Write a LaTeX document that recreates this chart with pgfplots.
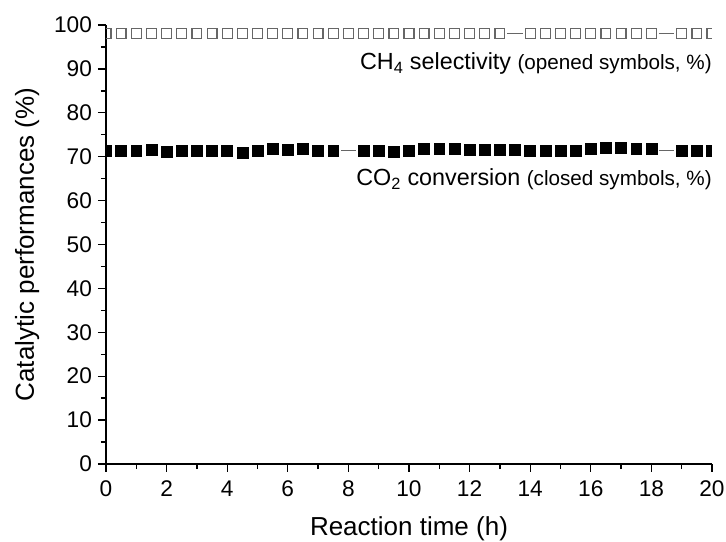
\documentclass[border=0pt]{standalone}
\usepackage{fontspec}
\setmainfont{Liberation Sans}
\usepackage{pgfplots}
\pgfplotsset{compat=1.18}
\begin{document}
\begin{tikzpicture}
\path[use as bounding box] (-79.5pt,-58.5pt) rectangle (465pt,348pt);
\begin{axis}[
  scale only axis, width=454.5pt, height=329.25pt,
  at={(0pt,0pt)}, anchor=south west,
  xmin=0, xmax=20, ymin=0, ymax=100,
  axis lines*=left,
  axis line style={line width=1pt},
  xtick={0,2,...,20}, minor x tick num=1,
  ytick={0,10,...,100}, minor y tick num=1,
  tick align=outside,
  major tick length=6pt, minor tick length=3.8pt,
  every tick/.style={black, line width=1pt},
  /pgf/number format/assume math mode=true,
  ticklabel style={font=\fontsize{17}{17}\selectfont},
  xticklabel style={text height=12.5pt, text depth=0pt, yshift=-2pt},
  yticklabel style={xshift=-1pt},
  xlabel={Reaction time (h)},
  ylabel={Catalytic performances (\%)},
  label style={font=\fontsize{19.5}{19.5}\selectfont},
  xlabel style={at={(axis description cs:0.5,-0.162)}, anchor=base},
  ylabel style={at={(axis description cs:-0.13,0.5)}, anchor=center},
  clip=true, clip mode=individual, clip marker paths=true,
]
% CH4 selectivity (open symbols)
\addplot[only marks, mark=square, mark size=3.7pt, mark options={draw=black!60, line width=0.9pt}]
coordinates {
(0,98)(0.5,98)(1,98)(1.5,98)(2,98)(2.5,98)(3,98)(3.5,98)(4,98)(4.5,98)
(5,98)(5.5,98)(6,98)(6.5,98)(7,98)(7.5,98)(8,98)(8.5,98)(9,98)(9.5,98)
(10,98)(10.5,98)(11,98)(11.5,98)(12,98)(12.5,98)(13,98)
(14,98)(14.5,98)(15,98)(15.5,98)(16,98)(16.5,98)(17,98)(17.5,98)(18,98)
(19,98)(19.5,98)(20,98)
};
\addplot[no marks, black!60, line width=0.9pt, unbounded coords=jump]
coordinates {(13.25,98)(13.75,98) (nan,nan) (18.25,98)(18.75,98)};
% CO2 conversion (closed symbols)
\addplot[only marks, mark=square*, mark size=4.1pt, mark options={fill=black, draw=black}]
coordinates {
(0,71.4)(0.5,71.4)(1,71.4)(1.5,71.55)(2,71.1)(2.5,71.25)(3,71.25)(3.5,71.4)(4,71.25)(4.5,70.95)
(5,71.4)(5.5,71.85)(6,71.55)(6.5,71.85)(7,71.4)(7.5,71.25)
(8.5,71.4)(9,71.4)(9.5,71.1)(10,71.4)(10.5,71.7)(11,71.7)(11.5,71.85)(12,71.55)(12.5,71.55)
(13,71.55)(13.5,71.55)(14,71.4)(14.5,71.25)(15,71.25)(15.5,71.4)(16,71.85)(16.5,72.0)(17,72.0)
(17.5,71.7)(18,71.7)
(19,71.4)(19.5,71.25)(20,71.4)
};
\addplot[no marks, black!60, line width=0.9pt, unbounded coords=jump]
coordinates {(7.75,71.4)(8.25,71.4) (nan,nan) (18.25,71.4)(18.75,71.4)};
\node[anchor=base east, inner sep=0pt] at (axis cs:20,89.8)
  {\fontsize{17.5}{17.5}\selectfont CH\textsubscript{4} selectivity \fontsize{15.5}{15.5}\selectfont(opened symbols, \%)};
\node[anchor=base east, inner sep=0pt] at (axis cs:20,63.4)
  {\fontsize{17.5}{17.5}\selectfont CO\textsubscript{2} conversion \fontsize{15.5}{15.5}\selectfont(closed symbols, \%)};
\end{axis}
\end{tikzpicture}
\end{document}
